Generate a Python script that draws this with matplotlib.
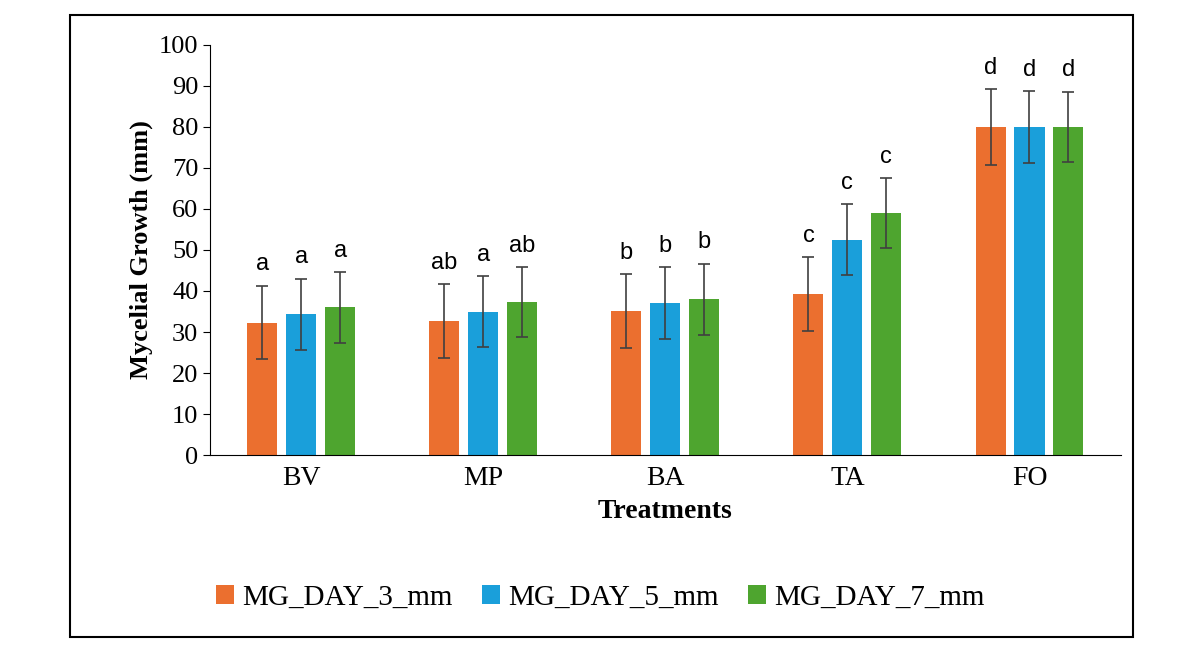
import matplotlib.pyplot as plt
import numpy as np
from matplotlib.patches import Rectangle

treatments = ['BV', 'MP', 'BA', 'TA', 'FO']
series = ['MG_DAY_3_mm', 'MG_DAY_5_mm', 'MG_DAY_7_mm']
day3 = [32.3, 32.7, 35.2, 39.2, 80.0]
day5 = [34.3, 35.0, 37.0, 52.5, 80.0]
day7 = [36.0, 37.3, 38.0, 59.0, 80.0]
err3 = [9.0, 9.0, 9.0, 9.0, 9.2]
err5 = [8.7, 8.6, 8.8, 8.6, 8.7]
err7 = [8.6, 8.6, 8.7, 8.5, 8.6]
letters3 = ['a', 'ab', 'b', 'c', 'd']
letters5 = ['a', 'a', 'b', 'c', 'd']
letters7 = ['a', 'ab', 'b', 'c', 'd']

colors = ['#EB6F2F', '#1A9FDA', '#4EA52F']
serif = 'Liberation Serif'
sans = 'Liberation Sans'

fig = plt.figure(figsize=(12.01, 6.51), dpi=100)
fig.patches.append(Rectangle((70 / 1201, 1 - 637 / 651), 1063 / 1201, 622 / 651,
                             transform=fig.transFigure, fill=False, lw=1.5, ec='black'))
ax = fig.add_axes([0.175, 0.301, 0.758, 0.63])

x = np.arange(len(treatments))
w = 0.165
off = 0.214
for i, (vals, errs, lets) in enumerate(zip([day3, day5, day7], [err3, err5, err7],
                                           [letters3, letters5, letters7])):
    xs = x + (i - 1) * off
    ax.bar(xs, vals, w, color=colors[i], label=series[i],
           yerr=errs, error_kw=dict(ecolor='#404040', lw=1.2, capsize=4, capthick=1.2))
    for xi, v, e, l in zip(xs, vals, errs, lets):
        ax.text(xi, v + e + 2.5, l, ha='center', va='bottom', fontsize=17, family=sans)

ax.set_xlim(-0.5, 4.5)
ax.set_ylim(0, 100)
ax.set_yticks(range(0, 101, 10))
ax.set_xticks(x)
ax.set_xticklabels(treatments, fontsize=20, family=serif)
for t in ax.get_yticklabels():
    t.set_family(serif)
    t.set_fontsize(19)
ax.tick_params(axis='x', length=0, pad=8)
ax.tick_params(axis='y', direction='out', length=5)
ax.spines['top'].set_visible(False)
ax.spines['right'].set_visible(False)
ax.set_ylabel('Mycelial Growth (mm)', fontsize=19, family=serif, fontweight='bold')
ax.set_xlabel('Treatments', fontsize=20, family=serif, fontweight='bold', labelpad=6)

fig.legend(*ax.get_legend_handles_labels(), loc='center', bbox_to_anchor=(0.5, 1 - 598 / 651),
           ncol=3, frameon=False, prop={'family': serif, 'size': 21},
           handlelength=0.6, handleheight=0.6, handletextpad=0.3, columnspacing=1.0)

fig.savefig('out.png', dpi=100)
